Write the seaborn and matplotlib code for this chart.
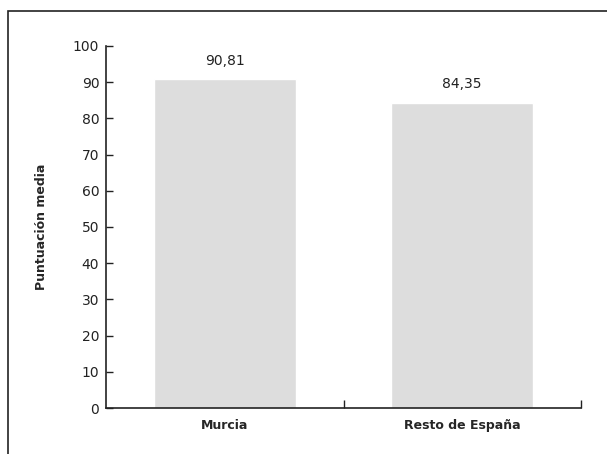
import pandas as pd
import seaborn as sns
import matplotlib.pyplot as plt
from matplotlib.patches import Rectangle

# Datos
regiones = ["Murcia", "Resto de España"]
puntuaciones = [90.81, 84.35]
etiquetas = ["90,81", "84,35"]

df = pd.DataFrame({"Region": regiones, "Puntuacion": puntuaciones})

sns.set_style("white")
plt.rcParams["font.family"] = ["DejaVu Sans"]

fig = plt.figure(figsize=(6.07, 4.54), dpi=100)
ax = fig.add_axes([0.175, 0.101, 0.782, 0.798])

sns.barplot(data=df, x="Region", y="Puntuacion", color="#dddddd", width=0.6,
            saturation=1, ax=ax)

for i, txt in enumerate(etiquetas):
    ax.annotate(txt, (i, puntuaciones[i]), xytext=(0, 8), textcoords="offset points",
                ha="center", va="bottom", fontsize=10, color="#222222")

ax.set_ylim(0, 100)
ax.set_xlim(-0.5, 1.5)
ax.set_yticks(range(0, 101, 10))
ax.set_xticks([0.5, 1.5], minor=False)
ax.set_xticks([0, 1], minor=True)
ax.set_xticklabels(["", ""])
ax.set_xticklabels(regiones, minor=True, fontweight="bold", fontsize=9)
ax.tick_params(axis="x", which="major", bottom=True, direction="in", length=6, width=1,
               color="#222222")
ax.tick_params(axis="x", which="minor", bottom=True, length=0, pad=8)
ax.tick_params(axis="y", left=True, direction="in", length=5, width=1, labelsize=10,
               color="#222222", labelcolor="#222222", pad=5)
ax.set_xlabel("")
ax.set_ylabel("Puntuación media", fontweight="bold", fontsize=9, labelpad=18)

for s in ["top", "right"]:
    ax.spines[s].set_visible(False)
for s in ["left", "bottom"]:
    ax.spines[s].set_color("#222222")
    ax.spines[s].set_linewidth(1.2)

# marco exterior
fig.patches.append(Rectangle((8 / 607, -0.1), 1.2, 1 - 11 / 454 + 0.1, transform=fig.transFigure,
                             fill=False, edgecolor="#222222", linewidth=1.2))

fig.savefig("out.png", dpi=100)
